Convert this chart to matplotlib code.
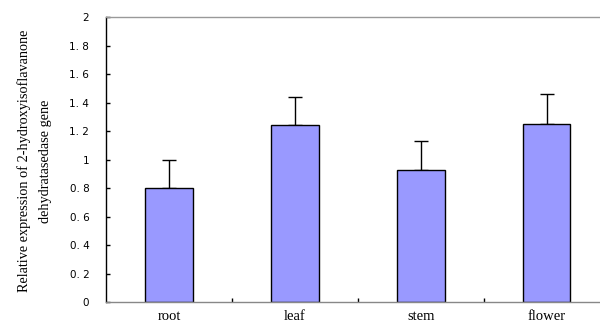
import numpy as np
import matplotlib.pyplot as plt

# tissue expression data
tissues = ['root', 'leaf', 'stem', 'flower']
expression = [0.80, 1.24, 0.93, 1.25]
err_up = [0.20, 0.20, 0.20, 0.21]

ytick_vals = [0, 0.2, 0.4, 0.6, 0.8, 1.0, 1.2, 1.4, 1.6, 1.8, 2.0]
ytick_text = ['0', '0. 2', '0. 4', '0. 6', '0. 8', '1', '1. 2', '1. 4', '1. 6', '1. 8', '2']

fig = plt.figure(figsize=(6, 3.24), dpi=100)
ax = fig.add_axes([106 / 600, 22 / 324, 494 / 600, 284.7 / 324])

x = np.arange(len(tissues))
ax.bar(x, expression, width=0.38, color='#9999FF', edgecolor='black', linewidth=1,
       zorder=2)
ax.errorbar(x, expression, yerr=[np.zeros(len(err_up)), err_up], fmt='none',
            ecolor='black', elinewidth=1, capsize=5, capthick=1, zorder=1)

ax.set_xlim(-0.5, 3.5 - 9.5 / 126)
ax.set_ylim(0, 2)

# category boundary ticks pointing up, labels at category centres
ax.set_xticks([0.5, 1.5, 2.5])
ax.set_xticklabels([])
ax.tick_params(axis='x', which='major', direction='in', length=3, width=1,
               color='black')
ax.set_xticks(x, minor=True)
ax.set_xticklabels(tissues, minor=True, family='Liberation Serif', fontsize=10.5)
ax.tick_params(axis='x', which='minor', length=0, pad=6)

ax.set_yticks(ytick_vals)
ax.set_yticklabels(ytick_text, fontsize=7.5, family='DejaVu Sans')
ax.tick_params(axis='y', direction='in', length=3, width=1, pad=12)

ax.spines['right'].set_visible(False)
ax.spines['left'].set_color('black')
ax.spines['top'].set_color('#999999')
ax.spines['bottom'].set_color('#888888')
for s in ['left', 'top', 'bottom']:
    ax.spines[s].set_linewidth(1)

fig.text(34.5 / 600, 1 - 161 / 324,
         'Relative expression of 2-hydroxyisoflavanone\ndehydratasedase gene',
         rotation=90, ha='center', va='center', family='Liberation Serif',
         fontsize=10.3, linespacing=1.85, multialignment='center')

fig.savefig('out.png', dpi=100)
